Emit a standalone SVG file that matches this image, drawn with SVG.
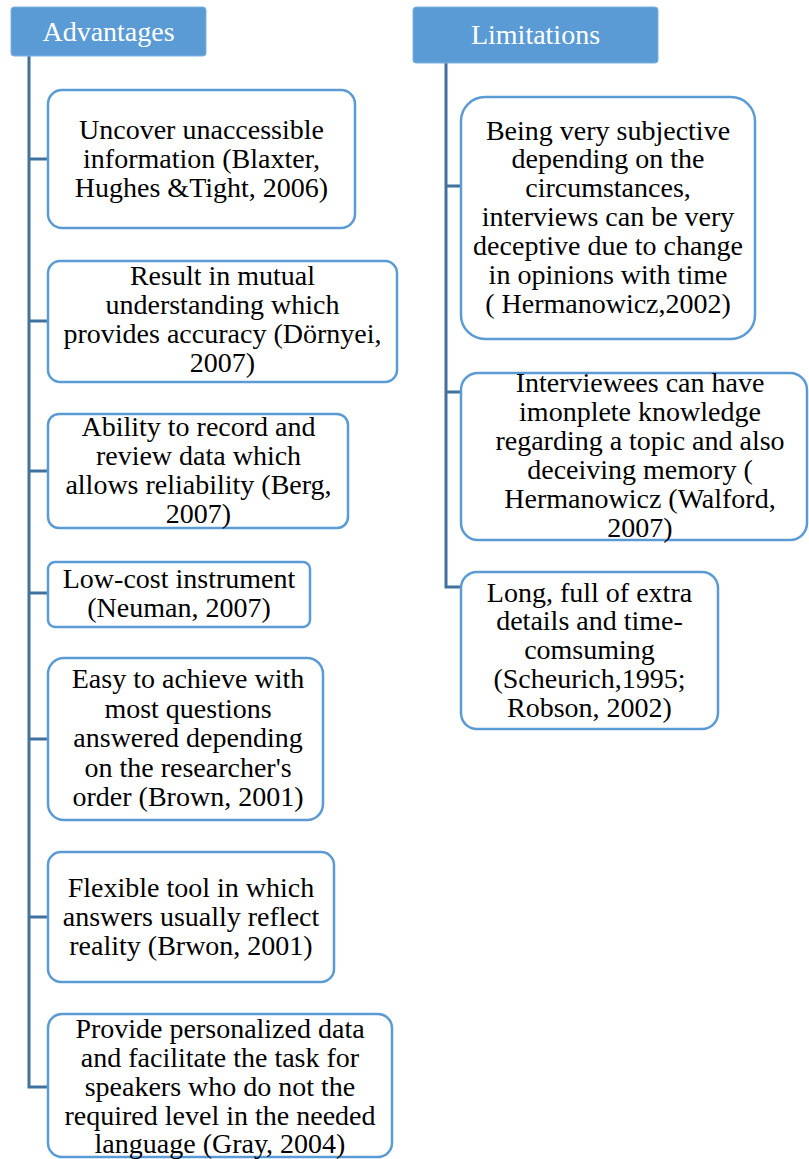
<svg xmlns="http://www.w3.org/2000/svg" width="809" height="1159" viewBox="0 0 809 1159">
  <style>
    .hdr { fill: #5B9BD5; stroke: #7FB0DF; stroke-width: 1; }
    .hdr-t { font-family: "Liberation Serif", "Times New Roman", serif; font-size: 28px; fill: #FFFFFF; text-anchor: middle; }
    .box { fill: #FFFFFF; stroke: #5B9BD5; stroke-width: 2.5; }
    .txt { font-family: "Liberation Serif", "Times New Roman", serif; font-size: 28px; fill: #000000; text-anchor: middle; }
    .conn { fill: none; stroke: #41719C; stroke-width: 3; }
  </style>
  <rect width="809" height="1159" fill="#FFFFFF"/>

  <!-- connectors: vertical trunks with horizontal branches -->
  <g id="connectors">
    <path class="conn" d="M29,56 V1087 H48"/>
    <path class="conn" d="M29,159 H48 M29,321 H48 M29,471 H48 M29,593 H48 M29,739 H48 M29,917 H48"/>
    <path class="conn" d="M446,63 V587 H461"/>
    <path class="conn" d="M446,186 H461 M446,392 H461"/>
  </g>

  <!-- column headers -->
  <g id="advantages">
    <rect class="hdr" x="11" y="7" width="195" height="49" rx="3"/>
    <text class="hdr-t" x="108.5" y="41">Advantages</text>
  </g>
  <g id="limitations">
    <rect class="hdr" x="413" y="7" width="245" height="56" rx="3"/>
    <text class="hdr-t" x="535.5" y="44">Limitations</text>
  </g>

  <!-- advantage items -->
  <g id="adv1">
    <rect class="box" x="48" y="90" width="307" height="138" rx="14"/>
    <text class="txt" x="201.5" y="139">Uncover unaccessible</text>
    <text class="txt" x="201.5" y="168">information (Blaxter,</text>
    <text class="txt" x="201.5" y="197">Hughes &amp;Tight, 2006)</text>
  </g>
  <g id="adv2">
    <rect class="box" x="48" y="261" width="349" height="121" rx="12"/>
    <text class="txt" x="222.5" y="285">Result in mutual</text>
    <text class="txt" x="222.5" y="314">understanding which</text>
    <text class="txt" x="222.5" y="343">provides accuracy (Dörnyei,</text>
    <text class="txt" x="222.5" y="372">2007)</text>
  </g>
  <g id="adv3">
    <rect class="box" x="48" y="414" width="300" height="114" rx="11"/>
    <text class="txt" x="198.5" y="436">Ability to record and</text>
    <text class="txt" x="198.5" y="465">review data which</text>
    <text class="txt" x="198.5" y="494">allows reliability (Berg,</text>
    <text class="txt" x="198.5" y="523">2007)</text>
  </g>
  <g id="adv4">
    <rect class="box" x="48" y="562" width="262" height="65" rx="7"/>
    <text class="txt" x="179" y="588">Low-cost instrument</text>
    <text class="txt" x="179" y="617">(Neuman, 2007)</text>
  </g>
  <g id="adv5">
    <rect class="box" x="48" y="658" width="275" height="162" rx="16"/>
    <text class="txt" x="188" y="688">Easy to achieve with</text>
    <text class="txt" x="188" y="718">most questions</text>
    <text class="txt" x="188" y="747">answered depending</text>
    <text class="txt" x="188" y="777">on the researcher's</text>
    <text class="txt" x="188" y="806">order (Brown, 2001)</text>
  </g>
  <g id="adv6">
    <rect class="box" x="48" y="852" width="286" height="130" rx="13"/>
    <text class="txt" x="191" y="897">Flexible tool in which</text>
    <text class="txt" x="191" y="926">answers usually reflect</text>
    <text class="txt" x="191" y="955">reality (Brwon, 2001)</text>
  </g>
  <g id="adv7">
    <rect class="box" x="48" y="1014" width="344" height="143" rx="14"/>
    <text class="txt" x="220" y="1038">Provide personalized data</text>
    <text class="txt" x="220" y="1067">and facilitate the task for</text>
    <text class="txt" x="220" y="1096">speakers who do not the</text>
    <text class="txt" x="220" y="1125">required level in the needed</text>
    <text class="txt" x="220" y="1153">language (Gray, 2004)</text>
  </g>

  <!-- limitation items -->
  <g id="lim1">
    <rect class="box" x="461" y="97" width="294" height="242" rx="24"/>
    <text class="txt" x="608" y="140">Being very subjective</text>
    <text class="txt" x="608" y="168">depending on the</text>
    <text class="txt" x="608" y="197">circumstances,</text>
    <text class="txt" x="608" y="226">interviews can be very</text>
    <text class="txt" x="608" y="255">deceptive due to change</text>
    <text class="txt" x="608" y="284">in opinions with time</text>
    <text class="txt" x="608" y="313">( Hermanowicz,2002)</text>
  </g>
  <g id="lim2">
    <rect class="box" x="461" y="373" width="346" height="167" rx="17"/>
    <text class="txt" x="640" y="392">Interviewees can have</text>
    <text class="txt" x="640" y="421">imonplete knowledge</text>
    <text class="txt" x="640" y="450">regarding a topic and also</text>
    <text class="txt" x="640" y="479">deceiving memory (</text>
    <text class="txt" x="640" y="508">Hermanowicz (Walford,</text>
    <text class="txt" x="640" y="537">2007)</text>
  </g>
  <g id="lim3">
    <rect class="box" x="461" y="572" width="257" height="157" rx="16"/>
    <text class="txt" x="589.5" y="602">Long, full of extra</text>
    <text class="txt" x="589.5" y="630">details and time-</text>
    <text class="txt" x="589.5" y="659">comsuming</text>
    <text class="txt" x="589.5" y="688">(Scheurich,1995;</text>
    <text class="txt" x="589.5" y="717">Robson, 2002)</text>
  </g>
</svg>
